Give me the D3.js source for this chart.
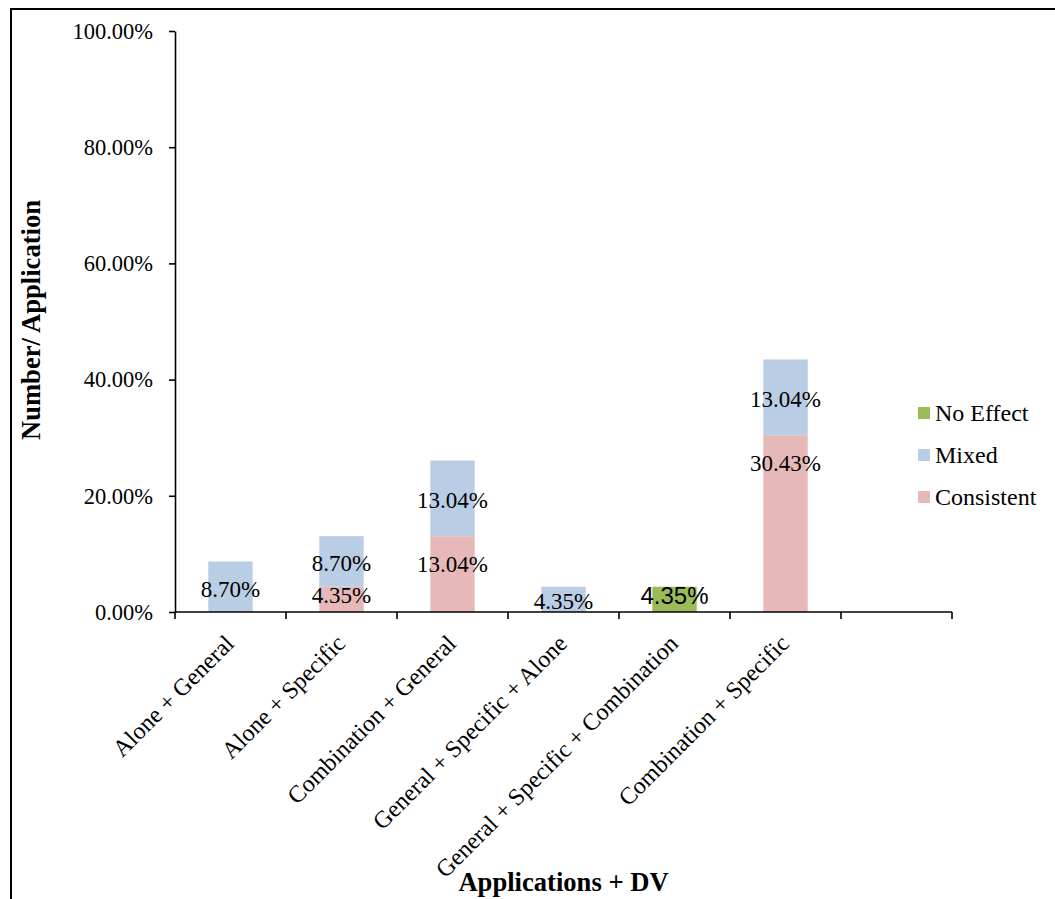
<!DOCTYPE html>
<html>
<head>
<meta charset="utf-8">
<script src="https://cdn.jsdelivr.net/npm/d3@7"></script>
<style>
  html, body { margin: 0; padding: 0; background: #fff; }
  svg { display: block; }
  text { fill: #000; }
</style>
</head>
<body>
<script>
// Application types and the share of each outcome per type
const categories = [
  "Alone + General",
  "Alone + Specific",
  "Combination + General",
  "General + Specific + Alone",
  "General + Specific + Combination",
  "Combination + Specific",
  ""
];
const consistent = [0, 0.0435, 0.1304, 0, 0, 0.3043, 0];
const mixed      = [0.087, 0.087, 0.1304, 0.0435, 0, 0.1304, 0];
const noEffect   = [0, 0, 0, 0, 0.0435, 0, 0];

const seriesKeys   = ["consistent", "mixed", "noEffect"];
const seriesNames  = { consistent: "Consistent", mixed: "Mixed", noEffect: "No Effect" };
const seriesColors = { consistent: "#E6B9B8", mixed: "#B9CDE5", noEffect: "#9BBB59" };
const yTicks = [0, 0.2, 0.4, 0.6, 0.8, 1.0];

const W = 1055, H = 899;
const plotLeft = 175, plotRight = 952, plotTop = 31, plotBottom = 612;
const serif = "'Liberation Serif', 'Times New Roman', serif";
const sans = "'Liberation Sans', Arial, sans-serif";

const rows = categories.map((c, i) => ({
  category: c, consistent: consistent[i], mixed: mixed[i], noEffect: noEffect[i]
}));

const svg = d3.select("body").append("svg").attr("width", W).attr("height", H);

// outer chart frame
svg.append("rect")
  .attr("x", 11).attr("y", 9).attr("width", W + 50).attr("height", H + 50)
  .attr("fill", "none").attr("stroke", "#000").attr("stroke-width", 2);

const x = d3.scaleBand().domain(categories).range([plotLeft, plotRight])
  .paddingInner(0.6).paddingOuter(0.3);
const y = d3.scaleLinear().domain([0, 1]).range([plotBottom, plotTop]);

const stacked = d3.stack().keys(seriesKeys)(rows);

// bars
const layers = svg.append("g").selectAll("g").data(stacked).join("g")
  .attr("fill", d => seriesColors[d.key]);
layers.selectAll("rect")
  .data(d => d.filter(s => s[1] - s[0] > 0).map(s => ({ key: d.key, s, cat: s.data.category })))
  .join("rect")
  .attr("x", d => x(d.cat))
  .attr("width", x.bandwidth())
  .attr("y", d => y(d.s[1]))
  .attr("height", d => y(d.s[0]) - y(d.s[1]));

// y axis
const yAxis = svg.append("g").attr("transform", `translate(${plotLeft},0)`)
  .call(d3.axisLeft(y).tickValues(yTicks).tickFormat(d3.format(".2%"))
    .tickSize(6).tickPadding(16).tickSizeOuter(0));
yAxis.select(".domain").attr("stroke", "#000").attr("stroke-width", 1.6);
yAxis.selectAll(".tick line").attr("stroke", "#000").attr("stroke-width", 1.6);
yAxis.selectAll(".tick text")
  .attr("font-family", serif).attr("font-size", 22.5).attr("fill", "#000");

// x axis: labels at band centres, ticks at band boundaries
const xAxis = svg.append("g").attr("transform", `translate(0,${plotBottom})`)
  .call(d3.axisBottom(x).tickSize(0).tickSizeOuter(0).tickPadding(0));
xAxis.select(".domain").remove();
xAxis.selectAll(".tick text")
  .attr("font-family", serif).attr("font-size", 24).attr("fill", "#000")
  .attr("text-anchor", "end").attr("dy", 0).attr("y", 0)
  .attr("transform", "translate(5,33) rotate(-45)");

const step = x.step();
const edges = categories.map(c => x(c) + x.bandwidth() / 2 - step / 2)
  .concat([x(categories[categories.length - 1]) + x.bandwidth() / 2 + step / 2]);
svg.append("line")
  .attr("x1", plotLeft).attr("x2", plotRight).attr("y1", plotBottom).attr("y2", plotBottom)
  .attr("stroke", "#000").attr("stroke-width", 1.6);
svg.append("g").selectAll("line").data(edges).join("line")
  .attr("x1", d => d).attr("x2", d => d)
  .attr("y1", plotBottom).attr("y2", plotBottom + 7)
  .attr("stroke", "#000").attr("stroke-width", 1.6);

// value labels
const fmt = d3.format(".2%");
const labels = [];
stacked.forEach(layer => {
  layer.forEach(s => {
    const v = s[1] - s[0];
    if (v <= 0) return;
    const yTop = y(s[1]), yBot = y(s[0]);
    const mid = (yTop + yBot) / 2;
    let ly;
    if (layer.key === "consistent") ly = Math.min(yTop + 28, mid - 4);
    else if (layer.key === "mixed") ly = mid + 2;
    else ly = mid - 4;
    labels.push({ key: layer.key, text: fmt(v), cx: x(s.data.category) + x.bandwidth() / 2, ly });
  });
});
svg.append("g").selectAll("text").data(labels).join("text")
  .attr("x", d => d.cx).attr("y", d => d.ly).attr("dy", "0.34em")
  .attr("text-anchor", "middle")
  .attr("font-family", d => d.key === "noEffect" ? sans : serif)
  .attr("font-size", d => d.key === "noEffect" ? 24 : 23)
  .text(d => d.text);

// axis titles
svg.append("text")
  .attr("transform", "translate(40,320) rotate(-90)")
  .attr("text-anchor", "middle")
  .attr("font-family", serif).attr("font-weight", "bold").attr("font-size", 26.6)
  .text("Number/ Application");
svg.append("text")
  .attr("x", (plotLeft + plotRight) / 2).attr("y", 891)
  .attr("text-anchor", "middle")
  .attr("font-family", serif).attr("font-weight", "bold").attr("font-size", 26.6)
  .text("Applications + DV");

// legend
const legendKeys = ["noEffect", "mixed", "consistent"];
const legend = svg.append("g").selectAll("g").data(legendKeys).join("g")
  .attr("transform", (d, i) => `translate(918,${413 + i * 42})`);
legend.append("rect")
  .attr("x", 0).attr("y", -6).attr("width", 12).attr("height", 12)
  .attr("fill", d => seriesColors[d]);
legend.append("text")
  .attr("x", 17).attr("y", 0).attr("dy", "0.34em")
  .attr("font-family", serif).attr("font-size", 24)
  .text(d => seriesNames[d]);
</script>
</body>
</html>
